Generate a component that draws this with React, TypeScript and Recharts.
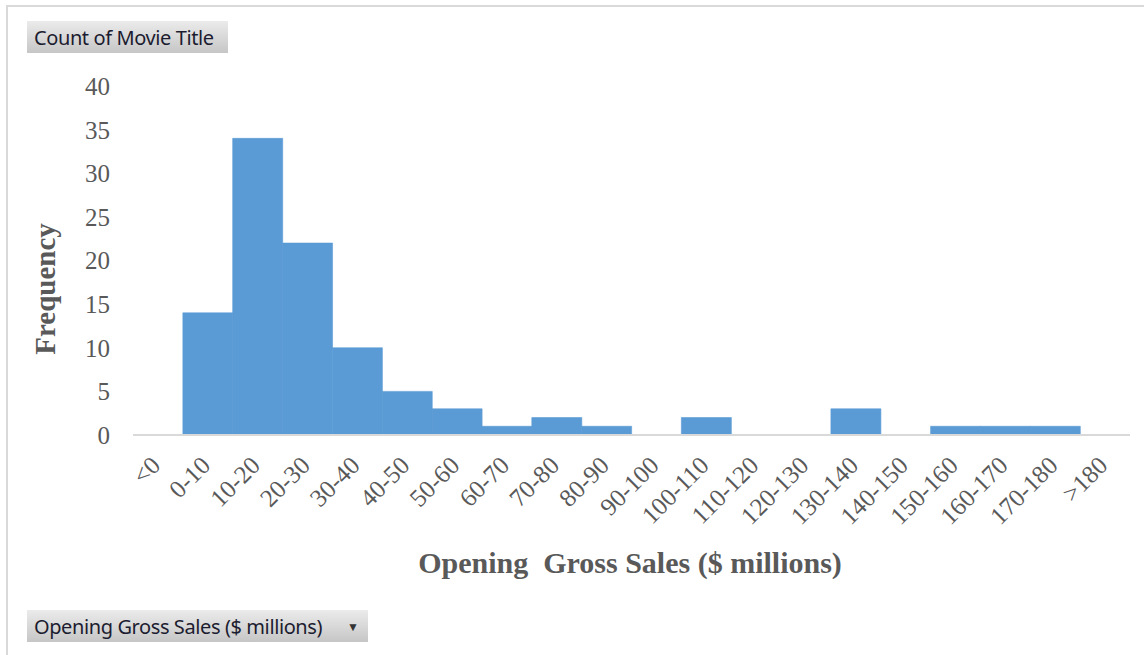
import React from "react";
import { BarChart, Bar, XAxis, YAxis, Label } from "recharts";

// bins of opening gross sales ($ millions) and how many titles fall in each
const bins = [
  "<0", "0-10", "10-20", "20-30", "30-40", "40-50", "50-60", "60-70", "70-80", "80-90",
  "90-100", "100-110", "110-120", "120-130", "130-140", "140-150", "150-160", "160-170",
  "170-180", ">180",
];
const counts = [0, 14, 34, 22, 10, 5, 3, 1, 2, 1, 0, 2, 0, 0, 3, 0, 1, 1, 1, 0];
const yTicks = [0, 5, 10, 15, 20, 25, 30, 35, 40];

const data = bins.map((bin, i) => ({ bin, count: counts[i] }));

const SERIF = '"Liberation Serif", "Times New Roman", serif';
const GREY = "#595959";

const AngledTick = (props: any) => {
  const { x, y, payload } = props;
  const tx = x + 4;
  const ty = y + 30;
  return (
    <text
      x={tx}
      y={ty}
      transform={`rotate(-45 ${tx} ${ty})`}
      textAnchor="end"
      fill={GREY}
      fontSize={25}
      fontFamily={SERIF}
    >
      {payload.value}
    </text>
  );
};

const pivotButton: React.CSSProperties = {
  position: "absolute",
  left: 27,
  height: 32,
  display: "flex",
  alignItems: "center",
  paddingLeft: 7,
  boxSizing: "border-box",
  background: "linear-gradient(#ebebeb, #c6c6c6)",
  fontFamily: '"Noto Sans", "Open Sans", sans-serif',
  fontSize: 20,
  color: "#1c1c30",
  letterSpacing: -0.4,
  whiteSpace: "nowrap",
};

export default function App() {
  return (
    <div
      style={{
        position: "absolute",
        left: 0,
        top: 0,
        width: 1144,
        height: 655,
        background: "#fff",
        overflow: "hidden",
      }}
    >
      {/* chart frame, only the top and left edges show */}
      <div style={{ position: "absolute", left: 6, top: 5, width: 1140, height: 2, background: "#d9d9d9" }} />
      <div style={{ position: "absolute", left: 6, top: 5, width: 2, height: 660, background: "#d9d9d9" }} />

      <BarChart
        width={1144}
        height={655}
        data={data}
        barCategoryGap={0}
        margin={{ top: 86, right: 14, bottom: 70, left: 33 }}
      >
        <XAxis
          dataKey="bin"
          height={150}
          interval={0}
          tickLine={false}
          tickSize={0}
          axisLine={{ stroke: "#d9d9d9", strokeWidth: 2 }}
          tick={<AngledTick />}
        >
          <Label
            content={() => (
              <text
                x={630}
                y={573}
                textAnchor="middle"
                fill={GREY}
                fontSize={30}
                fontWeight="bold"
                fontFamily={SERIF}
                style={{ whiteSpace: "pre" }}
              >
                {"Opening  Gross Sales ($ millions)"}
              </text>
            )}
          />
        </XAxis>
        <YAxis
          width={100}
          domain={[0, 40]}
          ticks={yTicks}
          interval={0}
          axisLine={false}
          tickLine={false}
          tickSize={0}
          tickMargin={23}
          tick={{ fill: GREY, fontSize: 25, fontFamily: SERIF }}
        >
          <Label
            content={() => (
              <text
                x={45}
                y={289}
                transform="rotate(-90 45 289)"
                textAnchor="middle"
                dominantBaseline="central"
                fill={GREY}
                fontSize={29}
                fontWeight="bold"
                fontFamily={SERIF}
              >
                Frequency
              </text>
            )}
          />
        </YAxis>
        {/* stroke in the fill colour hides the seams between touching bins */}
        <Bar dataKey="count" fill="#5b9bd5" stroke="#5b9bd5" strokeWidth={0.6} isAnimationActive={false} />
      </BarChart>

      <div style={{ ...pivotButton, top: 21, width: 201 }}>Count of Movie Title</div>
      <div style={{ ...pivotButton, top: 610, width: 341 }}>
        Opening Gross Sales ($ millions)
        <span style={{ position: "absolute", left: 320, fontSize: 12, color: "#333" }}>▼</span>
      </div>
    </div>
  );
}
